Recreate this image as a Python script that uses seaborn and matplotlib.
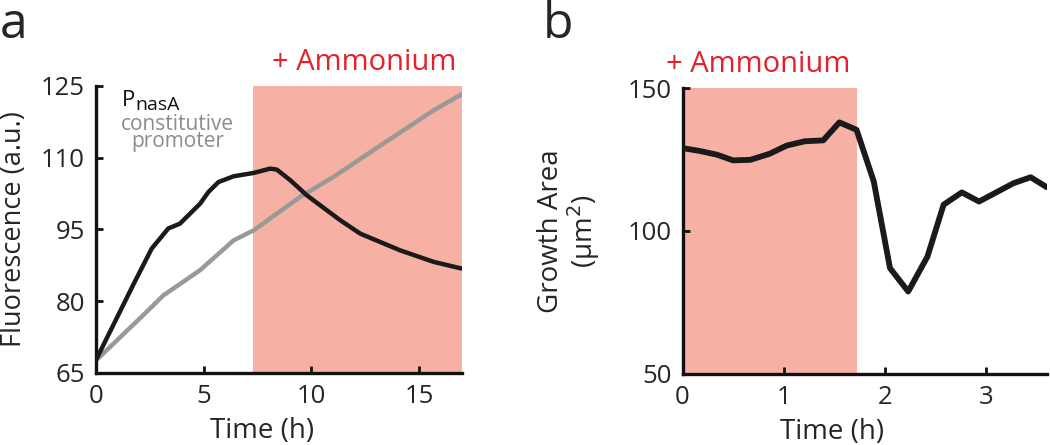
import matplotlib
matplotlib.use("Agg")
import matplotlib.pyplot as plt
import seaborn as sns
import pandas as pd

# panel a: fluorescence time courses (h, a.u.)
pnas_time = [0, 1.74, 2.59, 3.36, 3.9, 4.84, 5.22, 5.69, 6.39, 7.32, 8.09, 8.4,
             9.02, 9.8, 11.35, 12.28, 14.14, 15.69, 17.0]
pnas_fluor = [67.7, 83.5, 91, 95.2, 96.2, 100.4, 102.8, 104.9, 106.1, 106.8, 107.7,
              107.5, 105.3, 102.1, 96.9, 94.1, 90.6, 88.2, 86.8]
const_time = [0, 2.2, 3.13, 4.84, 6.39, 7.32, 9.49, 11.04, 13.36, 15.69, 17.0]
const_fluor = [67.6, 77.1, 81.2, 86.5, 92.7, 94.8, 101.8, 106, 113, 119.9, 123.3]
ammonium_a = (7.3, 17.0)

# panel b: growth area (h, um^2)
area_time = [0, 0.17, 0.34, 0.5, 0.67, 0.86, 1.03, 1.21, 1.39, 1.55, 1.72, 1.89,
             2.05, 2.23, 2.42, 2.58, 2.76, 2.93, 3.1, 3.27, 3.44, 3.6]
area_vals = [129, 128, 126.7, 124.7, 124.9, 127, 129.9, 131.4, 131.7, 138, 135.4,
             117.3, 87, 78.8, 91, 109.2, 113.5, 110.3, 113.5, 116.7, 118.8, 115.3]
ammonium_b = (0, 1.72)

SHADE = "#f7b0a4"
RED = "#e5202a"

sns.set_style("ticks")
plt.rcParams["font.family"] = ["Open Sans", "DejaVu Sans"]

fig = plt.figure(figsize=(10.5, 4.45), dpi=100)
ax1 = fig.add_axes([0.0914, 0.162, 0.3486, 0.645])
ax2 = fig.add_axes([0.650, 0.160, 0.347, 0.642])

def style(ax):
    sns.despine(ax=ax)
    for s in ["left", "bottom"]:
        ax.spines[s].set_linewidth(2.4)
        ax.spines[s].set_color("#111111")
    ax.tick_params(direction="in", length=5, width=2, labelsize=18.5, pad=8,
                   color="#111111")

# ---- panel a
ax1.axvspan(*ammonium_a, color=SHADE, lw=0, zorder=0)
sns.lineplot(x=const_time, y=const_fluor, ax=ax1, color="#999999", lw=3.2, zorder=2)
sns.lineplot(x=pnas_time, y=pnas_fluor, ax=ax1, color="#1a1a1a", lw=3.2, zorder=3)
ax1.set_xlim(0, 17)
ax1.set_ylim(65, 125)
ax1.set_xticks([0, 5, 10, 15])
ax1.set_yticks([65, 80, 95, 110, 125])
style(ax1)
ax1.set_xlabel("Time (h)", fontsize=20)
ax1.set_ylabel("Fluorescence (a.u.)", fontsize=19.5)
ax1.xaxis.set_label_coords(0.454, -0.155)
ax1.yaxis.set_label_coords(-0.186, 0.5)
ax1.text(1.2, 120.8, "P", fontsize=16, color="#111111")
ax1.text(1.85, 120.0, "nasA", fontsize=14, color="#111111")
ax1.text(3.8, 119.2, "constitutive\npromoter", fontsize=15, color="#8c8c8c",
         ha="center", va="top", linespacing=0.8)
ax1.text(0.985, 1.055, "+ Ammonium", transform=ax1.transAxes, fontsize=21,
         color=RED, ha="right", va="baseline")
fig.text(0.0, 0.915, "a", fontsize=36, va="baseline", ha="left")

# ---- panel b
ax2.axvspan(*ammonium_b, color=SHADE, lw=0, zorder=0)
sns.lineplot(x=area_time, y=area_vals, ax=ax2, color="#1a1a1a", lw=4.2, zorder=3)
ax2.set_xlim(0, 3.6)
ax2.set_ylim(50, 150)
ax2.set_xticks([0, 1, 2, 3])
ax2.set_yticks([50, 100, 150])
style(ax2)
ax2.set_xlabel("Time (h)", fontsize=20)
ax2.set_ylabel("Growth Area\n(µm$^2$)", fontsize=20, linespacing=1.0)
ax2.xaxis.set_label_coords(0.41, -0.155)
ax2.yaxis.set_label_coords(-0.22, 0.5)
ax2.text(-0.045, 1.055, "+ Ammonium", transform=ax2.transAxes, fontsize=21,
         color=RED, ha="left", va="baseline")
fig.text(0.517, 0.915, "b", fontsize=36, va="baseline", ha="left")

fig.savefig("out.png", dpi=100)
